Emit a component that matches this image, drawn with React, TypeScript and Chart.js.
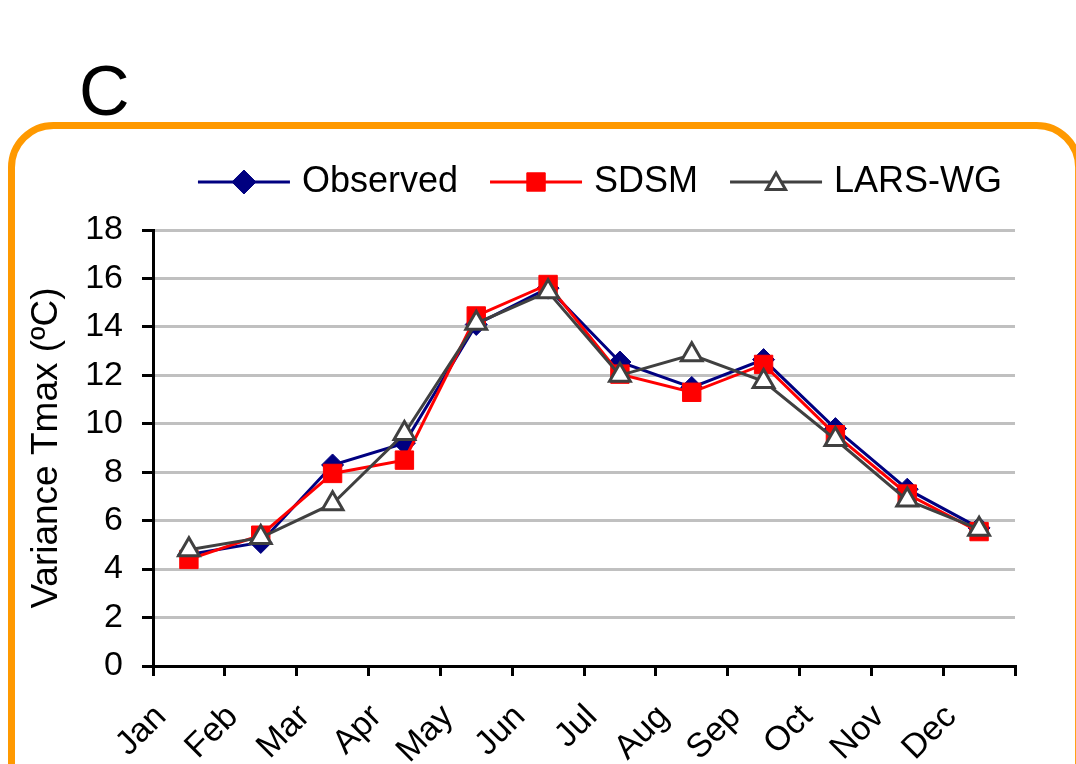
import React, { useEffect, useRef } from "react";
import { Chart, registerables } from "chart.js";
import { drawPoint } from "chart.js/helpers";

Chart.register(...registerables);

const months = ["Jan", "Feb", "Mar", "Apr", "May", "Jun", "Jul", "Aug", "Sep", "Oct", "Nov", "Dec"];
const observed = [4.6, 5.1, 8.3, 9.2, 14.1, 15.6, 12.55, 11.5, 12.65, 9.8, 7.3, 5.7];
const sdsm = [4.4, 5.4, 7.95, 8.5, 14.45, 15.75, 12.05, 11.3, 12.45, 9.55, 7.1, 5.55];
const larsWg = [4.8, 5.3, 6.7, 9.6, 14.15, 15.45, 12.0, 12.85, 11.75, 9.35, 6.85, 5.65];
const seriesNames = ["Observed", "SDSM", "LARS-WG"];
const panelLetter = "C";
const yTitle = "Variance Tmax (ºC)";
const yMin = 0;
const yMax = 18;
const yStep = 2;

const FONT = "'Liberation Sans', Arial, Helvetica, sans-serif";
const NAVY = "#000080";
const RED = "#FF0000";
const GREY = "#404040";
const ORANGE = "#FF9900";

const decorPlugin = {
  id: "decor",
  beforeDraw(chart: any) {
    const ctx = chart.ctx as CanvasRenderingContext2D;
    ctx.save();
    ctx.strokeStyle = ORANGE;
    ctx.lineWidth = 7;
    ctx.beginPath();
    (ctx as any).roundRect(11.5, 125.5, 1078.6 - 11.5, 760, 42);
    ctx.stroke();
    ctx.fillStyle = "#000";
    ctx.font = `70px ${FONT}`;
    ctx.textBaseline = "alphabetic";
    ctx.textAlign = "left";
    ctx.fillText(panelLetter, 79, 115);
    ctx.restore();
  },
  afterDraw(chart: any) {
    const ctx = chart.ctx as CanvasRenderingContext2D;
    ctx.save();
    const fontSize = 36;
    ctx.font = `${fontSize}px ${FONT}`;
    const lineLen = 92;
    const textGap = 12;
    const itemGap = 32;
    const ds = chart.data.datasets;
    const widths = ds.map((d: any) => lineLen + textGap + ctx.measureText(d.label).width);
    const total = widths.reduce((a: number, b: number) => a + b, 0) + itemGap * (ds.length - 1);
    let x = 600 - total / 2;
    const y = 182;
    ds.forEach((d: any, i: number) => {
      ctx.strokeStyle = d.borderColor;
      ctx.lineWidth = d.borderWidth;
      ctx.beginPath();
      ctx.moveTo(x, y);
      ctx.lineTo(x + lineLen, y);
      ctx.stroke();
      ctx.fillStyle = d.pointBackgroundColor;
      ctx.strokeStyle = d.pointBorderColor;
      ctx.lineWidth = d.pointBorderWidth;
      drawPoint(ctx, { pointStyle: d.pointStyle, radius: d.legendRadius, borderWidth: d.pointBorderWidth, rotation: 0 } as any, x + lineLen / 2, y + (d.pointStyle === "triangle" ? 2 : 0));
      ctx.fillStyle = "#000";
      ctx.textBaseline = "middle";
      ctx.textAlign = "left";
      ctx.fillText(d.label, x + lineLen + textGap, y);
      x += widths[i] + itemGap;
    });
    ctx.restore();
  },
};

export default function App() {
  const ref = useRef<HTMLCanvasElement | null>(null);
  useEffect(() => {
    if (!ref.current) return;
    const chart = new Chart(ref.current, {
      type: "line",
      data: {
        labels: months,
        datasets: [
          {
            label: seriesNames[0],
            data: observed,
            borderColor: NAVY,
            backgroundColor: NAVY,
            borderWidth: 3,
            pointStyle: "rectRot",
            pointRadius: 11,
            pointBackgroundColor: NAVY,
            pointBorderColor: NAVY,
            pointBorderWidth: 1,
            tension: 0,
            order: 3,
            legendRadius: 12,
          } as any,
          {
            label: seriesNames[1],
            data: sdsm,
            borderColor: RED,
            backgroundColor: RED,
            borderWidth: 3,
            pointStyle: "rect",
            pointRadius: 13,
            pointBackgroundColor: RED,
            pointBorderColor: RED,
            pointBorderWidth: 1,
            tension: 0,
            order: 2,
            legendRadius: 13,
          } as any,
          {
            label: seriesNames[2],
            data: larsWg,
            borderColor: GREY,
            backgroundColor: "#FFFFFF",
            borderWidth: 3,
            pointStyle: "triangle",
            pointRadius: 12,
            pointBackgroundColor: "#FFFFFF",
            pointBorderColor: GREY,
            pointBorderWidth: 3,
            tension: 0,
            order: 1,
            legendRadius: 11,
          } as any,
        ],
      },
      options: {
        responsive: false,
        animation: false,
        devicePixelRatio: 1,
        layout: { padding: { left: 0, right: 61, top: 230, bottom: 0 } },
        plugins: { legend: { display: false }, tooltip: { enabled: false } },
        scales: {
          x: {
            type: "category",
            offset: true,
            afterFit: (s: any) => {
              s.height = 98;
            },
            grid: {
              display: true,
              drawOnChartArea: false,
              drawTicks: true,
              tickLength: 10,
              tickColor: "#000",
              lineWidth: 3,
              offset: true,
            },
            border: { display: true, color: "#000", width: 3 },
            ticks: {
              autoSkip: false,
              minRotation: 45,
              maxRotation: 45,
              color: "#000",
              padding: 21,
              labelOffset: -28,
              font: { family: FONT, size: 34 },
            },
          },
          y: {
            min: yMin,
            max: yMax,
            afterFit: (s: any) => {
              s.width = 153;
            },
            grid: {
              color: "#C0C0C0",
              lineWidth: 3,
              drawTicks: true,
              tickLength: 11,
              tickColor: "#000",
            },
            border: { display: true, color: "#000", width: 3 },
            ticks: {
              stepSize: yStep,
              color: "#000",
              padding: 19,
              font: { family: FONT, size: 34 },
            },
            title: {
              display: true,
              text: yTitle,
              color: "#000",
              font: { family: FONT, size: 37 },
              padding: { top: 25, bottom: 4 },
            },
          },
        },
      },
      plugins: [decorPlugin],
    });
    return () => chart.destroy();
  }, []);
  return (
    <div style={{ position: "fixed", left: 0, top: 0, width: 1076, height: 764, overflow: "hidden", background: "#fff" }}>
      <canvas ref={ref} width={1076} height={764} style={{ display: "block" }} />
    </div>
  );
}
